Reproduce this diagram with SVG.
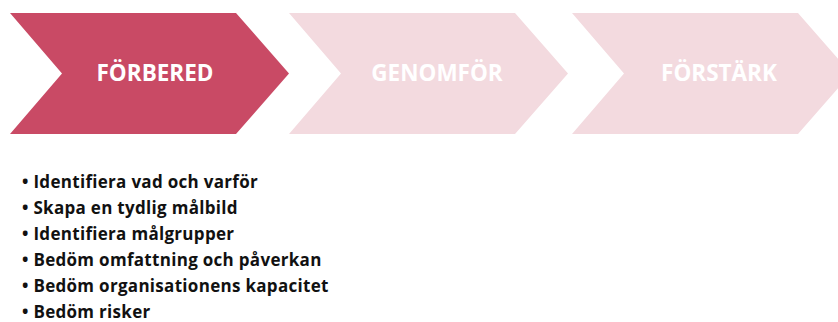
<svg xmlns="http://www.w3.org/2000/svg" width="838" height="322" viewBox="0 0 838 322">
<style>
.act{fill:#C94A65}
.inact{fill:#F3DADF}
.lbl{font-family:"Open Sans","Liberation Sans",sans-serif;font-weight:bold;font-size:22.5px;fill:#FFFFFF;text-anchor:middle}
.bul{font-family:"Open Sans","Liberation Sans",sans-serif;font-weight:bold;font-size:17px;letter-spacing:0.3px;fill:#111111}
</style>
<rect width="838" height="322" fill="#FFFFFF"/>
<g id="step-forbered">
<polygon class="act" points="10,13 236,13 289,73.5 236,134 10,134 62,73.5"/>
<text class="lbl" x="155" y="81">FÖRBERED</text>
</g>
<g id="step-genomfor">
<polygon class="inact" points="289,13 515,13 568,73.5 515,134 289,134 341,73.5"/>
<text class="lbl" x="437" y="81">GENOMFÖR</text>
</g>
<g id="step-forstark">
<polygon class="inact" points="572,13 798,13 851,73.5 798,134 572,134 624,73.5"/>
<text class="lbl" x="719" y="81">FÖRSTÄRK</text>
</g>
<g id="connectors"></g>
<g id="bullets">
<text class="bul" x="22" y="188">• Identifiera vad och varför</text>
<text class="bul" x="22" y="214">• Skapa en tydlig målbild</text>
<text class="bul" x="22" y="240">• Identifiera målgrupper</text>
<text class="bul" x="22" y="266">• Bedöm omfattning och påverkan</text>
<text class="bul" x="22" y="292">• Bedöm organisationens kapacitet</text>
<text class="bul" x="22" y="318">• Bedöm risker</text>
</g>
</svg>
